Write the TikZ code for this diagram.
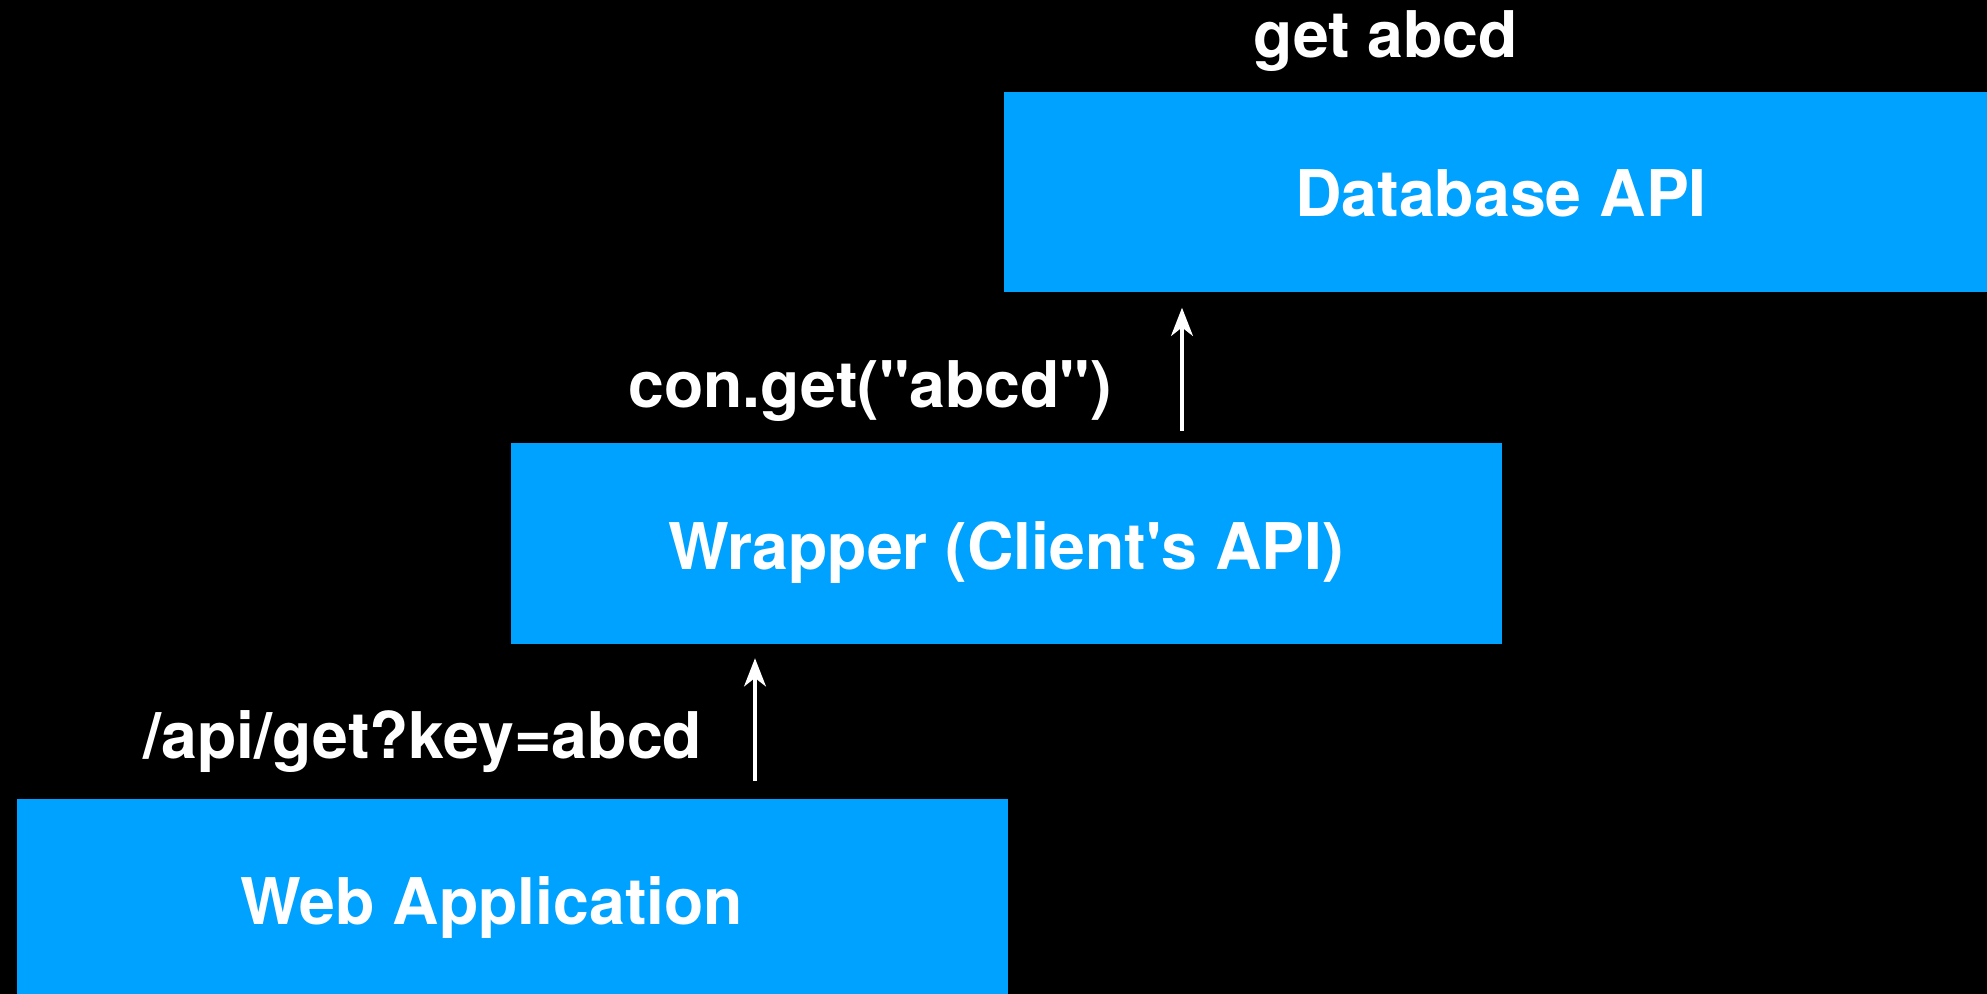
\documentclass[tikz,border=0pt]{standalone}
\usepackage{fontspec}
\usepackage{tikz}
\usetikzlibrary{arrows.meta,positioning}
\newfontfamily\diagfont{TeX Gyre Heros}
\definecolor{layerblue}{RGB}{0,162,255}

\tikzset{
  layer/.style={fill=layerblue,draw=none,minimum width=9.91cm,minimum height=2cm,inner sep=0pt},
  layertext/.style={text=white,anchor=base,inner sep=0pt,font=\diagfont\bfseries\fontsize{18.3}{20}\selectfont},
  flow/.style={white,line width=1.05pt,-{Stealth[length=8pt,width=6.2pt,inset=2.4pt]}}
}

\begin{document}
\begin{tikzpicture}[x=0.01cm,y=-0.01cm]
  \fill[black] (0,0) rectangle (1987,994);
  \clip (0,0) rectangle (1987,994);

  % the three layers
  \node[layer] (db)      at (1499.5,192) {};
  \node[layer] (wrapper) at (1006.5,543.5) {};
  \node[layer] (web)     at (512.5,899) {};

  \node[layertext] (dbtxt)      at (1501,217) {Database API};
  \node[layertext] (wrappertxt) at (1006,569) {Wrapper (Client's API)};
  \node[layertext] (webtxt)     at (492,924)  {Web Application};

  % calls between them
  \node[layertext] (getlbl) at (1385.5,58) {get abcd};
  \node[layertext] (conlbl) at (870,407)   {con.get("abcd")};
  \node[layertext] (apilbl) at (423,758)   {/api/get?key=abcd};

  \draw[flow] ([shift={(175.5,-12)}]wrapper.north) -- ([shift={(-317.5,15)}]db.south);
  \draw[flow] ([shift={(242.5,-17)}]web.north) -- ([shift={(-251.5,14)}]wrapper.south);
\end{tikzpicture}
\end{document}
